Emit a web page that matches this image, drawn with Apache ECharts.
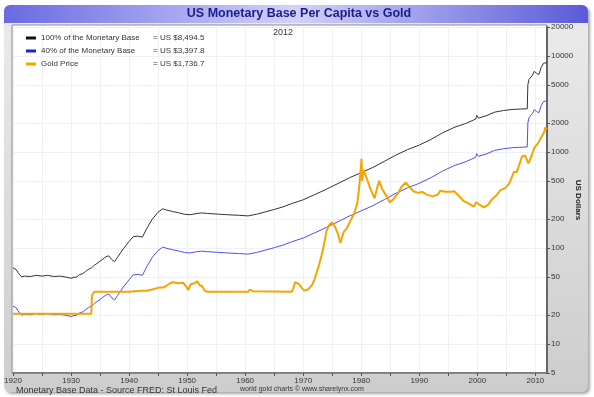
<!DOCTYPE html>
<html>
<head>
<meta charset="utf-8">
<script src="https://cdn.jsdelivr.net/npm/echarts@6/dist/echarts.min.js"></script>
<style>
  html, body { margin: 0; padding: 0; background: #fff; }
  #chart { width: 594px; height: 397px; }
</style>
</head>
<body>
<div id="chart"></div>
<script>
// monetary base per capita
const baseYears = [1920, 1920.5, 1921, 1921.5, 1922, 1923, 1924, 1925, 1926, 1927, 1928, 1929,
  1930, 1930.5, 1931, 1931.5, 1932, 1932.5, 1933, 1933.5, 1934, 1935, 1936, 1936.5, 1937, 1937.5, 1938, 1939,
  1940, 1940.7, 1941.5, 1942.3, 1943, 1944, 1945, 1945.8, 1946.5, 1947.5, 1948.5, 1949.5,
  1950.5, 1951.5, 1952.5, 1953.5, 1955, 1957, 1959, 1960.5, 1962, 1963.5, 1965, 1966.5, 1968,
  1970, 1972, 1974, 1976, 1978, 1980, 1982, 1984, 1986, 1988, 1990, 1992, 1994, 1996, 1998,
  1999.7, 1999.9, 2000.2, 2001.5, 2003, 2004.5, 2006, 2007.5, 2008.6,
  2008.7, 2008.9, 2009.2, 2009.5, 2009.8, 2010.2, 2010.6, 2011, 2011.4, 2012];
const base100 = [62, 60, 54, 50, 51, 50.5, 52, 51, 52, 50.5, 51, 50,
  48.5, 49.5, 50, 53, 54, 57, 60, 62, 66, 73, 81, 83, 76, 72, 80, 98,
  117, 131, 133, 130, 158, 200, 236, 256, 248, 240, 233, 225,
  222, 228, 232, 229, 226, 222, 219, 216, 225, 238, 252, 268, 290,
  318, 360, 410, 470, 540, 610, 690, 800, 930, 1060, 1180, 1350, 1580, 1800, 1980,
  2200, 2400, 2250, 2380, 2600, 2700, 2770, 2800, 2820,
  5000, 5700, 5800, 6300, 6900, 6600, 6400, 7600, 8400, 8494.5];
const base40 = [24.8, 24, 21.6, 20, 20.4, 20.2, 20.8, 20.4, 20.8, 20.2, 20.4, 20,
  19.4, 19.8, 20, 21.2, 21.6, 22.8, 24, 24.8, 26.4, 29.2, 32.4, 33.2, 30.4, 28.8, 32, 39.2,
  46.8, 52.4, 53.2, 52, 63.2, 80, 94.4, 102.4, 99.2, 96, 93.2, 90,
  88.8, 91.2, 92.8, 91.6, 90.4, 88.8, 87.6, 86.4, 90, 95.2, 100.8, 107.2, 116,
  127.2, 144, 164, 188, 216, 244, 276, 320, 372, 424, 472, 540, 632, 720, 792,
  880, 960, 900, 952, 1040, 1080, 1108, 1120, 1128,
  2000, 2280, 2320, 2520, 2760, 2640, 2560, 3040, 3360, 3397.8];

// gold price
const goldYears = [1920, 1933.5, 1933.6, 1934, 1940, 1941, 1942, 1943, 1944, 1945, 1946, 1946.8, 1947.5,
  1948.5, 1949.3, 1949.8, 1950.2, 1950.6, 1951.3, 1951.7, 1952.2, 1952.6, 1953, 1953.5,
  1960.5, 1960.8, 1961.3, 1968, 1968.3, 1968.6, 1969.3, 1969.8, 1970.2, 1970.8, 1971.5,
  1972, 1972.4, 1972.7, 1973, 1973.3, 1973.6, 1974, 1974.5, 1975, 1975.5, 1976, 1976.4,
  1977, 1977.5, 1978.2, 1978.8, 1979.3, 1979.6, 1979.9, 1980.05, 1980.15, 1980.4, 1981,
  1981.6, 1982.3, 1982.8, 1983.1, 1983.6, 1984.2, 1984.9, 1985.5, 1986.3, 1987, 1987.7,
  1988.3, 1989, 1989.8, 1990.5, 1991.3, 1992.3, 1993.2, 1993.6, 1994.5, 1995.5, 1996,
  1996.8, 1997.6, 1998.3, 1999.4, 1999.8, 2000.3, 2001.1, 2001.8, 2002.5, 2003.3, 2004,
  2004.8, 2005.5, 2006.3, 2006.8, 2007.7, 2008.2, 2008.8, 2009.4, 2009.8, 2010.4, 2010.9,
  2011.5, 2011.7, 2012];
const goldPrice = [20.67, 20.67, 32, 35, 35, 35.5, 36, 36, 37, 38.5, 39, 42, 44,
  43, 43.5, 40, 36.5, 42, 43, 45, 41, 40, 36, 35,
  35, 37, 35.5, 35, 38, 44, 42, 38, 36, 37, 41,
  48, 58, 66, 65, 90, 110, 150, 175, 185, 165, 140, 113,
  148, 160, 195, 230, 290, 400, 650, 850, 500, 650, 520,
  410, 330, 440, 500, 410, 360, 300, 320, 370, 440, 480,
  430, 390, 375, 385, 360, 345, 360, 395, 385, 385, 390,
  350, 310, 295, 270, 300, 285, 265, 280, 320, 355, 400,
  420, 470, 620, 620, 900, 920, 760, 930, 1100, 1220, 1380,
  1600, 1800, 1736.7];

const seriesNames = ['100% of the Monetary Base', '40% of the Monetary Base', 'Gold Price'];
const latestValues = ['8,494.5', '3,397.8', '1,736.7'];
const yTicks = [5, 10, 20, 50, 100, 200, 500, 1000, 2000, 5000, 10000, 20000];

const pairs = (xs, ys) => xs.map((x, i) => [x, ys[i]]);
const font = 'Liberation Sans';

const chart = echarts.init(document.getElementById('chart'));

chart.setOption({
  animation: false,
  textStyle: { fontFamily: font },
  graphic: {
    elements: [
      {
        type: 'rect', z: -10,
        shape: { x: 4, y: 5, width: 584, height: 387, r: 6 },
        style: {
          fill: new echarts.graphic.LinearGradient(0, 0, 0, 1, [
            { offset: 0, color: '#ebebeb' }, { offset: 1, color: '#cdcdcd' }
          ]),
          shadowBlur: 3, shadowOffsetX: 2, shadowOffsetY: 2, shadowColor: 'rgba(0,0,0,0.35)'
        }
      },
      {
        type: 'rect', z: -9,
        shape: { x: 4, y: 5, width: 584, height: 18, r: [6, 6, 0, 0] },
        style: {
          fill: new echarts.graphic.LinearGradient(0, 0, 1, 0, [
            { offset: 0, color: '#6a6ae2' }, { offset: 0.5, color: '#d2d2fa' }, { offset: 1, color: '#5a5ad8' }
          ])
        }
      },
      {
        type: 'rect', z: -8,
        shape: { x: 12, y: 25, width: 535, height: 348 },
        style: { fill: '#fff', stroke: '#8a8a8a', lineWidth: 1 }
      },
      {
        type: 'text', z: 10, x: 299, y: 14,
        style: { text: 'US Monetary Base Per Capita vs Gold', font: 'bold 12.5px ' + font, fill: '#1c1c8c', align: 'center', verticalAlign: 'middle' }
      },
      {
        type: 'text', z: 10, x: 283, y: 33,
        style: { text: '2012', font: '9px ' + font, fill: '#333', align: 'center', verticalAlign: 'middle' }
      },
      {
        type: 'text', z: 10, x: 578, y: 200, rotation: -Math.PI / 2,
        style: { text: 'US Dollars', font: 'bold 8px ' + font, fill: '#222', align: 'center', verticalAlign: 'middle' }
      },
      {
        type: 'text', z: 10, x: 16, y: 391,
        style: { text: 'Monetary Base Data - Source FRED: St Louis Fed', font: '9px ' + font, fill: '#333', verticalAlign: 'middle' }
      },
      {
        type: 'text', z: 10, x: 240, y: 389,
        style: { text: 'world gold charts © www.sharelynx.com', font: '7px ' + font, fill: '#333', verticalAlign: 'middle' }
      }
    ]
  },
  legend: {
    orient: 'vertical', left: 21, top: 28,
    icon: 'rect', itemWidth: 10, itemHeight: 3, itemGap: 3,
    data: seriesNames,
    formatter: name => '{a|' + name + '}{b|= US $' + latestValues[seriesNames.indexOf(name)] + '}',
    textStyle: {
      fontSize: 8, color: '#333', lineHeight: 10,
      rich: {
        a: { width: 112, fontSize: 8, color: '#333' },
        b: { fontSize: 8, color: '#333' }
      }
    }
  },
  grid: { left: 13, right: 47, top: 27, bottom: 24 },
  xAxis: {
    type: 'value', min: 1920, max: 2012, interval: 5,
    axisLine: { lineStyle: { color: '#666', width: 1.5 } },
    axisTick: { length: 3, lineStyle: { color: '#555' } },
    axisLabel: {
      fontSize: 8, color: '#333', margin: 4, showMaxLabel: false,
      formatter: v => (v % 10 === 0 ? String(v) : '')
    },
    splitLine: { show: true, lineStyle: { color: '#edf0f5', width: 1 } }
  },
  yAxis: {
    type: 'log', logBase: 10, min: 5, max: 20000, position: 'right',
    axisLine: { show: true, lineStyle: { color: '#666', width: 2 } },
    axisTick: { show: true, length: 3, customValues: yTicks, lineStyle: { color: '#555' } },
    axisLabel: { fontSize: 8, color: '#333', margin: 4, customValues: yTicks, formatter: v => String(v) },
    splitLine: { show: true, lineStyle: { color: '#edf0f5', width: 1 } },
    minorTick: { show: false }
  },
  series: [
    {
      name: seriesNames[0], type: 'line', showSymbol: false, silent: true,
      color: '#111', lineStyle: { color: '#333', width: 1 },
      data: pairs(baseYears, base100)
    },
    {
      name: seriesNames[1], type: 'line', showSymbol: false, silent: true,
      color: '#2020d0', lineStyle: { color: '#4f4ff0', width: 1 },
      data: pairs(baseYears, base40)
    },
    {
      name: seriesNames[2], type: 'line', showSymbol: false, silent: true,
      color: '#f5a400', lineStyle: { color: '#f5a400', width: 2 },
      data: pairs(goldYears, goldPrice)
    }
  ]
});
</script>
</body>
</html>
